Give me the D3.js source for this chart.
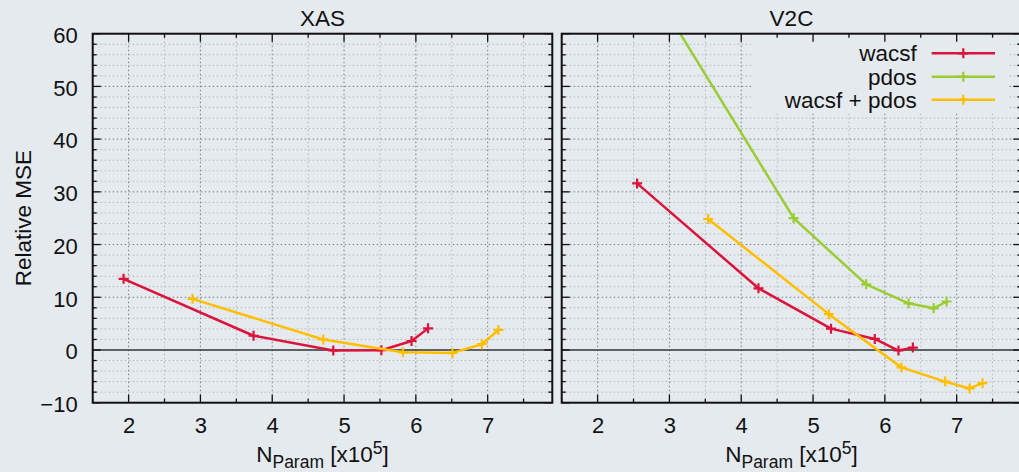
<!DOCTYPE html>
<html><head><meta charset="utf-8">
<script src="https://cdn.jsdelivr.net/npm/d3@7"></script>
<style>
body{margin:0;background:#e5eaef}
svg{display:block}
text{font-family:"Liberation Sans",Arial,Helvetica,sans-serif;fill:#111}
</style></head>
<body><svg id="c" width="1019" height="472"></svg>
<script>
// ---- data ----
const panelTitles = ["XAS", "V2C"];
const seriesNames = ["wacsf", "pdos", "wacsf + pdos"];
const seriesColors = ["#dc143c", "#9acd32", "#ffbf00"];
const xMajorTicks = [2, 3, 4, 5, 6, 7];
const yMajorTicks = [-10, 0, 10, 20, 30, 40, 50, 60];

// XAS panel
const xasWacsf = [[1.93, 13.5], [3.74, 2.7], [4.85, -0.1], [5.52, -0.05], [5.94, 1.7], [6.17, 4.1]];
const xasPdos = [];
const xasBoth = [[2.89, 9.7], [4.71, 2.0], [5.82, -0.45], [6.51, -0.55], [6.92, 1.1], [7.15, 3.8]];

// V2C panel
const v2cWacsf = [[2.55, 31.6], [4.24, 11.7], [5.25, 4.05], [5.86, 2.1], [6.19, -0.1], [6.39, 0.45]];
const v2cPdos = [[2.60, 72.2], [4.73, 25.0], [5.74, 12.45], [6.33, 8.85], [6.68, 7.9], [6.86, 9.2]];
const v2cBoth = [[3.54, 24.85], [5.22, 6.8], [6.23, -3.3], [6.84, -6.0], [7.18, -7.3], [7.36, -6.3]];

const panelData = [[xasWacsf, xasPdos, xasBoth], [v2cWacsf, v2cPdos, v2cBoth]];

// ---- layout ----
const svg = d3.select("#c");
const yTop = 33.7, yBot = 402.7;
const panelX = [[92.7, 552.3], [561.7, 1021.3]];
const xDomain = [1.5, 7.9], yDomain = [-10, 60];
const y = d3.scaleLinear().domain(yDomain).range([yBot, yTop]);
const xMinor = d3.range(1.5, 7.9, 0.5).filter(v => !Number.isInteger(v));
const yMinor = d3.range(-10, 61, 2).filter(v => v % 10 !== 0);
const fs = 22.5, fsTick = 22;

panelX.forEach((px, pi) => {
  const x = d3.scaleLinear().domain(xDomain).range(px);
  const g = svg.append("g");
  const clipId = "clip" + pi;
  svg.append("defs").append("clipPath").attr("id", clipId)
    .append("rect").attr("x", px[0]).attr("y", yTop).attr("width", px[1] - px[0]).attr("height", yBot - yTop);

  // grid
  const grid = g.append("g");
  grid.selectAll(".gxm").data(xMinor).join("line")
    .attr("x1", d => x(d)).attr("x2", d => x(d)).attr("y1", yTop).attr("y2", yBot)
    .attr("stroke", "#b4b8bc").attr("stroke-width", 1).attr("stroke-dasharray", "1.5,2.5");
  grid.selectAll(".gym").data(yMinor).join("line")
    .attr("x1", px[0]).attr("x2", px[1]).attr("y1", d => y(d)).attr("y2", d => y(d))
    .attr("stroke", "#b4b8bc").attr("stroke-width", 1).attr("stroke-dasharray", "1.5,2.5");
  grid.selectAll(".gxM").data(xMajorTicks).join("line")
    .attr("x1", d => x(d)).attr("x2", d => x(d)).attr("y1", yTop).attr("y2", yBot)
    .attr("stroke", "#7a7d80").attr("stroke-width", 1).attr("stroke-dasharray", "1.5,2.5");
  grid.selectAll(".gyM").data(yMajorTicks.filter(v => v !== 0)).join("line")
    .attr("x1", px[0]).attr("x2", px[1]).attr("y1", d => y(d)).attr("y2", d => y(d))
    .attr("stroke", "#7a7d80").attr("stroke-width", 1).attr("stroke-dasharray", "1.5,2.5");

  // legend box (covers grid) in right panel
  if (pi === 1) {
    g.append("rect").attr("x", 752).attr("y", yTop).attr("width", 256).attr("height", 113 - yTop)
      .attr("fill", "#e5eaef");
  }

  // zero line
  g.append("line").attr("x1", px[0]).attr("x2", px[1]).attr("y1", y(0)).attr("y2", y(0))
    .attr("stroke", "#333").attr("stroke-width", 1.5);

  // series
  const line = d3.line().x(d => x(d[0])).y(d => y(d[1]));
  const dg = g.append("g").attr("clip-path", `url(#${clipId})`);
  panelData[pi].forEach((s, si) => {
    if (!s.length) return;
    dg.append("path").datum(s).attr("d", line).attr("fill", "none")
      .attr("stroke", seriesColors[si]).attr("stroke-width", 2.5).attr("stroke-linejoin", "round");
    dg.selectAll(null).data(s).join("path")
      .attr("d", d => `M${x(d[0]) - 5},${y(d[1])}h10M${x(d[0])},${y(d[1]) - 5}v10`)
      .attr("stroke", seriesColors[si]).attr("stroke-width", 2.2).attr("fill", "none");
  });

  // ticks (inward, all sides)
  const tk = g.append("g").attr("stroke", "#111").attr("stroke-width", 1.3);
  const xt = [...xMajorTicks.map(v => [v, 8]), ...xMinor.map(v => [v, 4])];
  const yt = [...yMajorTicks.map(v => [v, 8]), ...yMinor.map(v => [v, 4])];
  tk.selectAll(".xb").data(xt).join("line").attr("x1", d => x(d[0])).attr("x2", d => x(d[0]))
    .attr("y1", yBot).attr("y2", d => yBot - d[1]);
  tk.selectAll(".xt").data(xt).join("line").attr("x1", d => x(d[0])).attr("x2", d => x(d[0]))
    .attr("y1", yTop).attr("y2", d => yTop + d[1]);
  tk.selectAll(".yl").data(yt).join("line").attr("y1", d => y(d[0])).attr("y2", d => y(d[0]))
    .attr("x1", px[0]).attr("x2", d => px[0] + d[1]);
  tk.selectAll(".yr").data(yt).join("line").attr("y1", d => y(d[0])).attr("y2", d => y(d[0]))
    .attr("x1", px[1]).attr("x2", d => px[1] - d[1]);

  // frame
  g.append("rect").attr("x", px[0]).attr("y", yTop).attr("width", px[1] - px[0]).attr("height", yBot - yTop)
    .attr("fill", "none").attr("stroke", "#111").attr("stroke-width", 2);

  // x axis labels via d3 axis
  const xa = g.append("g").attr("transform", `translate(0,${yBot})`)
    .call(d3.axisBottom(x).tickValues(xMajorTicks).tickSize(0).tickPadding(15).tickFormat(d3.format("d")));
  xa.select(".domain").remove();
  xa.selectAll("text").attr("font-size", fsTick).attr("fill", "#111")
    .attr("font-family", '"Liberation Sans",Arial,sans-serif');

  if (pi === 0) {
    const ya = g.append("g").attr("transform", `translate(${px[0]},0)`)
      .call(d3.axisLeft(y).tickValues(yMajorTicks).tickSize(0).tickPadding(15).tickFormat(d3.format("d")));
    ya.select(".domain").remove();
    ya.selectAll("text").attr("font-size", fsTick).attr("fill", "#111").attr("dy", "0.4em")
      .attr("font-family", '"Liberation Sans",Arial,sans-serif');
    svg.append("text").attr("transform", `translate(30.5,${(yTop + yBot) / 2}) rotate(-90)`)
      .attr("text-anchor", "middle").attr("font-size", fs).text("Relative MSE");
  }

  // title
  svg.append("text").attr("x", (px[0] + px[1]) / 2).attr("y", 26).attr("text-anchor", "middle")
    .attr("font-size", fs).text(panelTitles[pi]);

  // x label
  const xl = svg.append("text").attr("x", (px[0] + px[1]) / 2).attr("y", 462)
    .attr("text-anchor", "middle").attr("font-size", fs);
  xl.append("tspan").text("N");
  xl.append("tspan").attr("dy", 5.5).attr("font-size", 17.5).text("Param");
  xl.append("tspan").attr("dy", -5.5).text(" [x10");
  xl.append("tspan").attr("dy", -8).attr("font-size", 17.5).text("5");
  xl.append("tspan").attr("dy", 8).text("]");

  // legend
  if (pi === 1) {
    const rows = [53.3, 76.7, 99.7];
    seriesNames.forEach((n, i) => {
      svg.append("text").attr("x", 916.7).attr("y", rows[i]).attr("dy", "0.35em")
        .attr("text-anchor", "end").attr("font-size", fs).text(n);
      svg.append("line").attr("x1", 931.7).attr("x2", 995).attr("y1", rows[i]).attr("y2", rows[i])
        .attr("stroke", seriesColors[i]).attr("stroke-width", 2.5);
      svg.append("path").attr("d", `M958.3,${rows[i]}h10M963.3,${rows[i] - 5}v10`)
        .attr("stroke", seriesColors[i]).attr("stroke-width", 2.2);
    });
  }
});
</script>
</body></html>
